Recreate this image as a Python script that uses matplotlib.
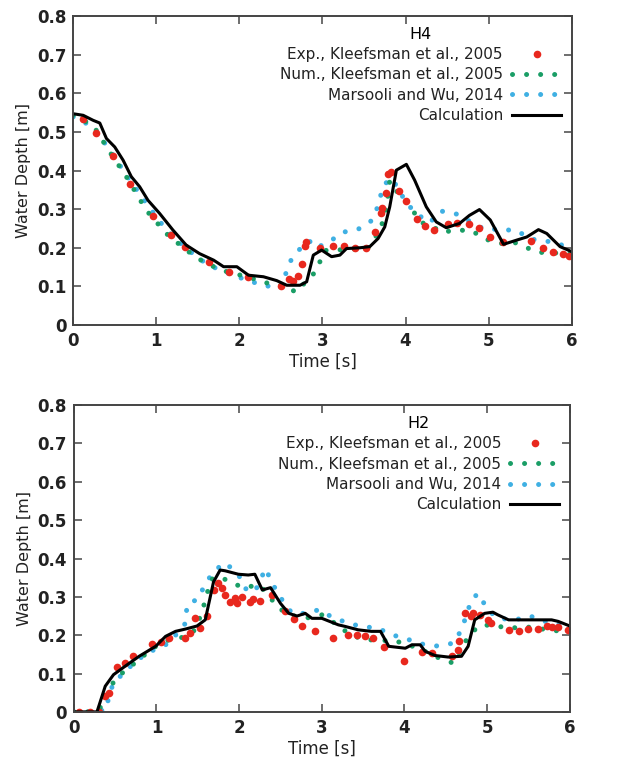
import matplotlib
matplotlib.use('Agg')
import numpy as np
from matplotlib import pyplot as plt
from matplotlib.lines import Line2D

# ---- H4 data ----
h4_exp_t = [0.12, 0.28, 0.48, 0.68, 0.96, 1.18, 1.34, 1.63, 1.87, 2.11, 2.5, 2.60, 2.65, 2.70, 2.75,
            2.79, 2.80, 2.97, 3.13, 3.26, 3.39, 3.52, 3.63, 3.70, 3.72, 3.76, 3.79, 3.83, 3.92,
            4.01, 4.14, 4.23, 4.34, 4.51, 4.62, 4.76, 4.89, 5.02, 5.17, 5.51, 5.66, 5.77, 5.90, 5.97]
h4_exp_v = [0.534, 0.496, 0.438, 0.366, 0.282, 0.233, 0.203, 0.164, 0.138, 0.125, 0.10, 0.12, 0.115, 0.126, 0.158,
            0.205, 0.214, 0.20, 0.205, 0.205, 0.20, 0.20, 0.242, 0.291, 0.304, 0.343, 0.39, 0.396, 0.347,
            0.32, 0.274, 0.257, 0.246, 0.261, 0.265, 0.261, 0.251, 0.229, 0.214, 0.218, 0.20, 0.188, 0.184, 0.18]

h4_num_t = [0.0, 0.24, 0.44, 0.64, 0.88, 1.12, 1.36, 1.6, 1.85, 2.09, 2.33, 2.57, 2.68, 2.93, 3.02,
            3.13, 3.34, 3.55, 3.70, 3.77, 3.81, 3.92, 4.03, 4.18, 4.29, 4.43, 4.62, 4.80, 4.95,
            5.15, 5.31, 5.46, 5.61, 5.75, 5.90, 6.0]
h4_num_v = [0.543, 0.517, 0.448, 0.384, 0.297, 0.237, 0.194, 0.159, 0.138, 0.125, 0.109, 0.099, 0.085, 0.141, 0.193,
            0.194, 0.196, 0.20, 0.248, 0.304, 0.373, 0.338, 0.317, 0.265, 0.261, 0.24, 0.246, 0.244, 0.223,
            0.211, 0.214, 0.20, 0.188, 0.188, 0.184, 0.184]

h4_mar_t = [0.0, 0.24, 0.44, 0.64, 0.88, 1.12, 1.36, 1.6, 1.77, 2.09, 2.29, 2.49, 2.62, 2.71, 2.84,
            2.93, 3.10, 3.24, 3.43, 3.59, 3.68, 3.72, 3.81, 3.92, 3.99, 4.14, 4.29, 4.43, 4.62,
            4.76, 4.95, 5.13, 5.35, 5.49, 5.68, 5.86, 5.97]
h4_mar_v = [0.539, 0.513, 0.453, 0.388, 0.315, 0.246, 0.198, 0.159, 0.142, 0.116, 0.103, 0.095, 0.167, 0.193, 0.218,
            0.20, 0.218, 0.24, 0.248, 0.27, 0.313, 0.355, 0.38, 0.355, 0.32, 0.287, 0.265, 0.295, 0.287,
            0.27, 0.248, 0.248, 0.244, 0.223, 0.218, 0.21, 0.193]

h4_calc_t = [0.0, 0.12, 0.24, 0.32, 0.40, 0.50, 0.60, 0.70, 0.80, 0.90, 1.04, 1.2, 1.36, 1.52, 1.69,
             1.81, 1.97, 2.11, 2.29, 2.45, 2.57, 2.73, 2.81, 2.89, 2.99, 3.11, 3.21, 3.29, 3.45,
             3.57, 3.67, 3.75, 3.81, 3.89, 4.01, 4.11, 4.25, 4.37, 4.49, 4.65, 4.77, 4.89, 5.02,
             5.18, 5.34, 5.46, 5.60, 5.70, 5.86, 6.0]
h4_calc_v = [0.547, 0.543, 0.53, 0.523, 0.483, 0.461, 0.427, 0.384, 0.358, 0.323, 0.289, 0.246, 0.207, 0.185, 0.168,
             0.151, 0.151, 0.129, 0.125, 0.115, 0.103, 0.103, 0.112, 0.181, 0.194, 0.177, 0.181, 0.198, 0.20,
             0.203, 0.224, 0.254, 0.306, 0.401, 0.416, 0.375, 0.306, 0.267, 0.252, 0.263, 0.284, 0.299, 0.272,
             0.209, 0.22, 0.228, 0.247, 0.237, 0.203, 0.19]

# ---- H2 data ----
h2_exp_t = [0.06, 0.2, 0.3, 0.38, 0.42, 0.52, 0.62, 0.72, 0.95, 1.05, 1.15, 1.35, 1.41, 1.47, 1.53,
            1.61, 1.69, 1.75, 1.79, 1.83, 1.89, 1.95, 1.97, 2.03, 2.13, 2.17, 2.25, 2.40, 2.56,
            2.66, 2.76, 2.92, 3.14, 3.32, 3.42, 3.52, 3.62, 3.75, 3.99, 4.21, 4.33, 4.57, 4.65,
            4.66, 4.73, 4.81, 4.83, 4.91, 5.01, 5.05, 5.26, 5.38, 5.50, 5.62, 5.72, 5.78, 5.86, 5.98]
h2_exp_v = [0.0, 0.0, 0.0, 0.041, 0.049, 0.117, 0.127, 0.145, 0.177, 0.181, 0.193, 0.192, 0.205, 0.244, 0.218,
            0.25, 0.319, 0.337, 0.322, 0.305, 0.287, 0.296, 0.283, 0.30, 0.287, 0.294, 0.29, 0.305, 0.264,
            0.242, 0.224, 0.21, 0.192, 0.201, 0.201, 0.198, 0.192, 0.169, 0.133, 0.155, 0.153, 0.145, 0.162,
            0.184, 0.259, 0.25, 0.257, 0.253, 0.24, 0.231, 0.214, 0.212, 0.216, 0.216, 0.224, 0.222, 0.222, 0.214]

h2_num_t = [0.0, 0.26, 0.36, 0.42, 0.52, 0.66, 0.81, 0.95, 1.15, 1.33, 1.47, 1.55, 1.61, 1.65, 1.75,
            1.91, 2.05, 2.24, 2.34, 2.46, 2.60, 2.80, 3.0, 3.16, 3.32, 3.48, 3.68, 3.87, 4.05,
            4.21, 4.39, 4.59, 4.75, 4.89, 5.05, 5.26, 5.46, 5.62, 5.82, 5.95]
h2_num_v = [0.0, 0.0, 0.019, 0.058, 0.09, 0.114, 0.14, 0.166, 0.188, 0.195, 0.214, 0.261, 0.305, 0.344, 0.354,
            0.337, 0.324, 0.331, 0.309, 0.274, 0.253, 0.244, 0.253, 0.231, 0.205, 0.19, 0.186, 0.186, 0.175,
            0.162, 0.143, 0.127, 0.188, 0.224, 0.227, 0.218, 0.222, 0.218, 0.21, 0.222]

h2_mar_t = [0.0, 0.26, 0.40, 0.42, 0.48, 0.66, 0.83, 0.97, 1.15, 1.35, 1.37, 1.51, 1.59, 1.71, 1.83,
            1.99, 2.07, 2.19, 2.32, 2.40, 2.52, 2.64, 2.80, 2.96, 3.12, 3.32, 3.48, 3.68, 3.85,
            4.03, 4.21, 4.39, 4.59, 4.69, 4.81, 4.89, 5.01, 5.13, 5.34, 5.52, 5.70, 5.86, 5.98]
h2_mar_v = [0.0, 0.0, 0.006, 0.041, 0.075, 0.114, 0.145, 0.162, 0.179, 0.231, 0.279, 0.296, 0.335, 0.37, 0.389,
            0.359, 0.322, 0.313, 0.374, 0.335, 0.292, 0.257, 0.257, 0.266, 0.248, 0.231, 0.223, 0.218, 0.201,
            0.19, 0.177, 0.172, 0.179, 0.214, 0.292, 0.309, 0.266, 0.244, 0.24, 0.25, 0.236, 0.231, 0.222]

h2_calc_t = [0.0, 0.28, 0.38, 0.48, 0.62, 0.79, 0.99, 1.11, 1.23, 1.35, 1.49, 1.59, 1.69, 1.77, 1.83,
             1.99, 2.11, 2.19, 2.28, 2.38, 2.50, 2.60, 2.70, 2.80, 2.88, 3.0, 3.20, 3.28, 3.44,
             3.60, 3.71, 3.81, 4.01, 4.09, 4.19, 4.25, 4.37, 4.53, 4.69, 4.77, 4.85, 4.97, 5.07,
             5.13, 5.26, 5.46, 5.78, 5.86, 6.0]
h2_calc_v = [0.0, 0.0, 0.067, 0.097, 0.119, 0.145, 0.171, 0.197, 0.21, 0.216, 0.224, 0.24, 0.339, 0.37, 0.368,
             0.359, 0.357, 0.359, 0.318, 0.324, 0.283, 0.257, 0.25, 0.257, 0.244, 0.244, 0.227, 0.223, 0.214,
             0.21, 0.21, 0.171, 0.166, 0.175, 0.175, 0.158, 0.147, 0.143, 0.145, 0.171, 0.24, 0.257, 0.26,
             0.253, 0.24, 0.24, 0.24, 0.236, 0.224]

labels = ['Exp., Kleefsman et al., 2005', 'Num., Kleefsman et al., 2005',
          'Marsooli and Wu, 2014', 'Calculation']

RED = '#e8281e'
GREEN = '#1a9e66'
BLUE = '#3fb0e3'

plt.rcParams['font.family'] = 'DejaVu Sans'


def draw_panel(ax, title, exp, num, mar, calc):
    dot_kw = dict(linewidth=3.6, dashes=(0.01, 2.8), dash_capstyle='round', solid_capstyle='round')
    ax.plot(*mar, color=BLUE, **dot_kw)
    ax.plot(*num, color=GREEN, **dot_kw)
    ax.plot(*exp, linestyle='none', marker='o', markersize=5.5, color=RED, markeredgewidth=0)
    ax.plot(*calc, color='black', linewidth=2.2)

    ax.set_xlim(0, 6)
    ax.set_ylim(0, 0.8)
    ax.set_xticks(np.arange(0, 7, 1))
    ax.set_yticks(np.arange(0, 0.81, 0.1))
    ax.set_xticklabels([str(i) for i in range(7)])
    ax.set_yticklabels(['0'] + ['%.1f' % v for v in np.arange(0.1, 0.81, 0.1)])
    ax.tick_params(direction='in', top=True, right=True, length=6, width=1.2,
                   labelsize=12, color='#555555', pad=5)
    for lbl in ax.get_xticklabels() + ax.get_yticklabels():
        lbl.set_fontweight('bold')
        lbl.set_color('#222222')
    for sp in ax.spines.values():
        sp.set_linewidth(1.4)
        sp.set_color('#444444')
    ax.set_xlabel('Time [s]', fontsize=12, labelpad=2, color='#222222')
    ax.set_ylabel('Water Depth [m]', fontsize=11.5, labelpad=4, color='#222222')

    handles = [
        Line2D([], [], linestyle='none', marker='o', markersize=5.5, color=RED, markeredgewidth=0),
        Line2D([], [], color=GREEN, **dot_kw),
        Line2D([], [], color=BLUE, **dot_kw),
        Line2D([], [], color='black', linewidth=2.2),
    ]
    leg = ax.legend(handles, labels, title=title, loc='upper right', frameon=False,
                    markerfirst=False, fontsize=11, title_fontsize=11.5, handlelength=3.2,
                    handletextpad=0.6, labelspacing=0.35, borderaxespad=0.3)
    for t in leg.get_texts():
        t.set_color('#222222')


fig = plt.figure(figsize=(6.31, 7.63), dpi=100)
ax1 = fig.add_axes([0.116, 0.574, 0.790, 0.405])
ax2 = fig.add_axes([0.117, 0.067, 0.786, 0.402])

draw_panel(ax1, 'H4', (h4_exp_t, h4_exp_v), (h4_num_t, h4_num_v),
           (h4_mar_t, h4_mar_v), (h4_calc_t, h4_calc_v))
draw_panel(ax2, 'H2', (h2_exp_t, h2_exp_v), (h2_num_t, h2_num_v),
           (h2_mar_t, h2_mar_v), (h2_calc_t, h2_calc_v))

fig.savefig('out.png', dpi=100, facecolor='white')
